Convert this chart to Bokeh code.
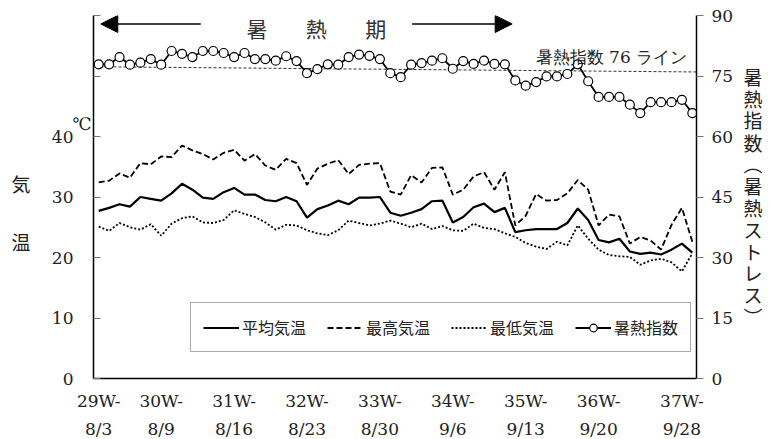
from bokeh.plotting import figure
from bokeh.models import (Range1d, LinearAxis, FixedTicker, Label, Arrow,
                          NormalHead, Legend, LegendItem)
from bokeh.embed import file_html
from bokeh.resources import INLINE

# ---------------- data (day index 0 = 8/3) ----------------
day_index = list(range(58))

mean_temp = [27.7, 28.2, 28.8, 28.4, 30.0, 29.7, 29.4, 30.6, 32.2, 31.2,
             29.9, 29.7, 30.8, 31.5, 30.4, 30.4, 29.5, 29.3, 30.0, 29.3,
             26.6, 28.0, 28.6, 29.4, 28.8, 29.9, 29.9, 30.0, 27.4, 26.9,
             27.4, 28.0, 29.3, 29.4, 25.8, 26.7, 28.3, 28.9, 27.5, 28.2,
             24.2, 24.5, 24.7, 24.7, 24.7, 25.7, 28.1, 26.2, 22.9, 22.5,
             23.1, 21.0, 20.6, 20.8, 20.5, 21.3, 22.3, 20.8]

max_temp = [32.4, 32.7, 33.9, 33.2, 35.6, 35.4, 36.7, 36.6, 38.5, 37.7,
            37.1, 36.2, 37.3, 37.8, 36.0, 37.1, 35.2, 34.5, 36.3, 35.6,
            32.0, 34.7, 35.5, 36.1, 33.8, 35.3, 35.5, 35.6, 30.9, 30.4,
            33.6, 32.4, 34.8, 34.9, 30.4, 31.2, 33.4, 34.1, 31.2, 34.1,
            25.3, 26.9, 30.5, 29.4, 29.5, 30.6, 32.8, 31.2, 25.3, 27.1,
            26.8, 22.3, 23.4, 22.8, 21.3, 25.4, 28.2, 22.6]

min_temp = [25.1, 24.4, 25.7, 25.0, 24.6, 25.5, 23.6, 25.6, 26.5, 26.8,
            25.8, 25.7, 26.2, 27.8, 27.2, 26.7, 25.8, 24.6, 25.4, 25.3,
            24.5, 24.0, 23.7, 24.5, 26.1, 25.7, 25.3, 25.6, 26.1, 25.6,
            25.0, 25.6, 24.7, 25.2, 24.5, 24.4, 25.6, 24.9, 24.7, 24.0,
            23.4, 22.4, 21.8, 21.4, 22.6, 22.0, 25.3, 23.1, 21.3, 20.4,
            20.2, 20.1, 18.8, 19.5, 19.8, 19.2, 17.7, 20.7]

heat_index = [77.9, 77.9, 79.7, 77.8, 78.3, 79.2, 77.8, 81.2, 80.5, 79.7,
              81.2, 81.2, 80.7, 79.7, 80.7, 79.2, 79.2, 78.8, 79.9, 78.7,
              75.7, 76.7, 77.9, 77.8, 79.7, 80.3, 80.0, 79.2, 75.7, 74.7,
              77.8, 78.2, 78.8, 79.4, 76.8, 78.7, 78.0, 78.8, 78.0, 77.9,
              73.9, 72.6, 73.5, 74.9, 74.9, 75.5, 77.9, 73.7, 69.8, 69.8,
              69.8, 67.9, 65.8, 68.5, 68.5, 68.5, 69.1, 65.8]

# reference "76" line as drawn (left end, right end), heat-index units
ref_line_x = [-0.5, 57.4]
ref_line_y = [77.3, 76.0]

tick_days = [0, 6, 13, 20, 27, 34, 41, 48, 56]
week_labels = ["29W-", "30W-", "31W-", "32W-", "33W-", "34W-", "35W-", "36W-", "37W-"]
date_labels = ["8/3", "8/9", "8/16", "8/23", "8/30", "9/6", "9/13", "9/20", "9/28"]

temp_ticks = [0, 10, 20, 30, 40, 50, 60]
temp_label_ticks = [0, 10, 20, 30, 40]
unit_pos = 42.1
heat_ticks = [0, 15, 30, 45, 60, 75, 90]

# axis titles, one character per slot (left: temperature units, right: heat units)
left_title_chars = ["気", "温"]
left_title_pos = [32.2, 22.6]
right_title_chars = ["暑", "熱", "指", "数", "︵", "暑", "熱", "ス", "ト", "レ", "ス", "︶"]
right_title_pos = [74.9, 69.5, 64.1, 58.6, 53.2, 47.8, 42.4, 37.0, 31.6, 26.2, 20.8, 15.4]

series_names = ["平均気温", "最高気温", "最低気温", "暑熱指数"]

SERIF = "DejaVu Serif"
CJK = "Noto Sans CJK JP"
TXT = "#222222"

# ---------------- figure ----------------
p = figure(width=773, height=439, output_backend="svg", toolbar_location=None,
           x_range=Range1d(-0.5, 57.4), y_range=Range1d(0, 60),
           frame_width=603, frame_height=363,
           min_border_left=93, min_border_right=77, min_border_top=15,
           min_border_bottom=61)
p.outline_line_color = None
p.grid.visible = False
p.background_fill_color = "white"
p.border_fill_color = "white"
p.extra_y_ranges = {"heat": Range1d(0, 90)}


def plain(axis, font, size="17px"):
    axis.major_label_text_font = font
    axis.major_label_text_font_size = size
    axis.major_label_text_font_style = "normal"
    axis.major_label_text_color = TXT


# left axis A (nearest frame): axis line, inward ticks, unit "℃"
ya = p.yaxis[0]
ya.ticker = FixedTicker(ticks=[unit_pos], minor_ticks=temp_ticks)
ya.major_label_overrides = {unit_pos: "℃"}
ya.major_tick_line_color = None
ya.minor_tick_in = 7
ya.minor_tick_out = 0
ya.minor_tick_line_color = "#777777"
ya.minor_tick_line_width = 1.2
ya.axis_line_color = "black"
ya.axis_line_width = 1.5
ya.major_label_standoff = -4
plain(ya, SERIF)

# left axis B: numbers
yb = LinearAxis(ticker=FixedTicker(ticks=temp_label_ticks))
yb.axis_line_color = None
yb.major_tick_line_color = None
yb.minor_tick_line_color = None
yb.major_label_standoff = -10
plain(yb, SERIF)
p.add_layout(yb, "left")

# left axis C: stacked title characters
yc = LinearAxis(ticker=FixedTicker(ticks=left_title_pos))
yc.major_label_overrides = dict(zip(left_title_pos, left_title_chars))
yc.axis_line_color = None
yc.major_tick_line_color = None
yc.minor_tick_line_color = None
yc.major_label_standoff = 12
plain(yc, CJK, "19px")
p.add_layout(yc, "left")

# right axis
ra = LinearAxis(y_range_name="heat", ticker=FixedTicker(ticks=heat_ticks))
ra.major_tick_in = 0
ra.major_tick_out = 7
ra.minor_tick_line_color = None
ra.major_tick_line_color = "#777777"
ra.major_tick_line_width = 1.2
ra.axis_line_color = "black"
ra.axis_line_width = 1.5
ra.major_label_standoff = 8
plain(ra, SERIF)
p.add_layout(ra, "right")

# right title axis: one upright character per slot
rb = LinearAxis(y_range_name="heat", ticker=FixedTicker(ticks=right_title_pos))
rb.major_label_overrides = dict(zip(right_title_pos, right_title_chars))
rb.axis_line_color = None
rb.major_tick_line_color = None
rb.minor_tick_line_color = None
rb.major_label_standoff = 1
plain(rb, CJK, "19px")
p.add_layout(rb, "right")

# bottom axes (week line + date line)
xa = p.xaxis[0]
xa.ticker = FixedTicker(ticks=tick_days)
xa.major_label_overrides = dict(zip(tick_days, week_labels))
xa.major_tick_line_color = None
xa.minor_tick_line_color = None
xa.axis_line_color = "black"
xa.axis_line_width = 1.5
xa.major_label_standoff = 6
plain(xa, SERIF)

xa2 = LinearAxis(ticker=FixedTicker(ticks=tick_days))
xa2.major_label_overrides = dict(zip(tick_days, date_labels))
xa2.major_tick_line_color = None
xa2.minor_tick_line_color = None
xa2.axis_line_color = None
xa2.major_label_standoff = -1
plain(xa2, SERIF)
p.add_layout(xa2, "below")

# ---------------- series ----------------
r_ref = p.line(ref_line_x, ref_line_y, y_range_name="heat", line_color="#333333",
               line_width=1, line_dash="3 2")
r_mean = p.line(day_index, mean_temp, line_color="black", line_width=2.2)
r_max = p.line(day_index, max_temp, line_color="black", line_width=1.8, line_dash="6 3")
r_min = p.line(day_index, min_temp, line_color="black", line_width=1.8, line_dash="2 2")
r_heat = p.line(day_index, heat_index, y_range_name="heat", line_color="black", line_width=1.8)
r_heat_pts = p.scatter(day_index, heat_index, y_range_name="heat", size=9,
                       fill_color="white", line_color="black", line_width=1.2)

legend = Legend(items=[
    LegendItem(label=series_names[0], renderers=[r_mean]),
    LegendItem(label=series_names[1], renderers=[r_max]),
    LegendItem(label=series_names[2], renderers=[r_min]),
    LegendItem(label=series_names[3], renderers=[r_heat, r_heat_pts]),
], location=(97, 26), orientation="horizontal")
legend.label_text_font = CJK
legend.label_text_font_size = "16px"
legend.label_text_color = TXT
legend.glyph_width = 36
legend.glyph_height = 19
legend.label_height = 19
legend.label_standoff = 3
legend.spacing = 21
legend.padding = 12
legend.margin = 0
legend.border_line_color = "#555555"
legend.border_line_width = 1.5
legend.background_fill_color = "white"
legend.background_fill_alpha = 1
p.add_layout(legend)

# ---------------- annotations ----------------
for xc, ch in zip([15.2, 20.9, 26.6], ["暑", "熱", "期"]):
    p.add_layout(Label(x=xc, y=58.0, text=ch, text_font=CJK, text_font_size="21px",
                       text_align="center", text_baseline="middle", text_color="#333333"))

p.add_layout(Arrow(end=NormalHead(size=17, fill_color="black", line_color="black"),
                   x_start=9.8, y_start=58.6, x_end=0.2, y_end=58.6,
                   line_color="black", line_width=1.5))
p.add_layout(Arrow(end=NormalHead(size=17, fill_color="black", line_color="black"),
                   x_start=30.1, y_start=58.6, x_end=39.7, y_end=58.6,
                   line_color="black", line_width=1.5))

p.add_layout(Label(x=56.5, y=79.8, y_range_name="heat", text="暑熱指数 76 ライン",
                   text_font=SERIF, text_font_size="17px", text_align="right",
                   text_baseline="middle", text_color=TXT))

open("out.html", "w").write(file_html(p, INLINE))
